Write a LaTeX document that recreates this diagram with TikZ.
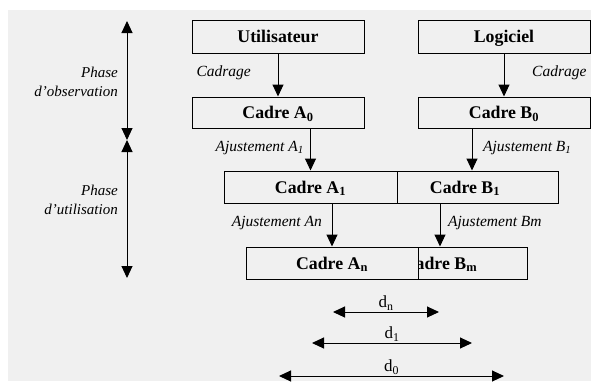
\documentclass[tikz,border=0pt]{standalone}
\usepackage{fontspec}
\setmainfont{Liberation Serif}
\usetikzlibrary{arrows.meta}
\definecolor{bg}{HTML}{F0F0F0}
\begin{document}
\begin{tikzpicture}[x=1pt,y=-1pt,
  box/.style={draw, fill=bg, line width=1pt, minimum height=32pt, inner sep=0pt, text height=12.5pt, text depth=0.5pt, font=\fontsize{17.8}{20}\selectfont\bfseries},
  arr/.style={line width=1pt, -{Triangle[length=12pt,width=11pt]}},
  darr/.style={line width=1pt, {Triangle[length=12pt,width=11pt]}-{Triangle[length=12pt,width=11pt]}},
  lab/.style={font=\fontsize{15.5}{17}\selectfont\itshape, inner sep=0pt},
  phase/.style={font=\fontsize{15}{19}\selectfont\itshape, inner sep=0pt, align=right, anchor=east},
  dlab/.style={font=\fontsize{17}{19}\selectfont, inner sep=1pt, above}]
\useasboundingbox (0,0) rectangle (591,381);
\fill[bg] (8,10) rectangle (591,381);
% boxes
\node[box, minimum width=172pt, minimum height=33pt] (U) at (278,36.5) {Utilisateur};
\node[box, minimum width=172pt, minimum height=33pt] (L) at (504,36.5) {Logiciel};
\node[box, minimum width=172pt, minimum height=31pt] (A0) at (278,112.5) {Cadre A\textsubscript{0}};
\node[box, minimum width=172pt, minimum height=31pt] (B0) at (504,112.5) {Cadre B\textsubscript{0}};
\node[box, minimum width=186pt] (B1) at (465,187) {Cadre B\textsubscript{1}};
\node[box, minimum width=173pt] (A1) at (310.5,187) {Cadre A\textsubscript{1}};
\node[box, minimum width=174pt] (Bm) at (440,263) {Cadre B\textsubscript{m}};
\node[box, minimum width=172pt] (An) at (332,263) {Cadre A\textsubscript{n}};
% arrows between boxes
\coordinate (bx) at (472,0);
\draw[arr] (U) -- (A0);
\draw[arr] (L) -- (B0);
\draw[arr] (A1.north |- A0.south) -- (A1.north);
\draw[arr] (B0.south -| bx) -- (B1.north -| bx);
\draw[arr] (An.north |- A1.south) -- (An.north);
\draw[arr] (Bm.north |- B1.south) -- (Bm.north);
% labels
\node[lab, anchor=east] (c1) at (251,73) {Cadrage};
\node[lab, anchor=west] (c2) at (532,73) {Cadrage};
\node[lab, anchor=east] (ja1) at (304,148) {Ajustement A\textsubscript{1}};
\node[lab, anchor=west] (jb1) at (483,148) {Ajustement B\textsubscript{1}};
\node[lab, anchor=east] (jan) at (322,223) {Ajustement An};
\node[lab, anchor=west] (jbm) at (448,223) {Ajustement Bm};
% phases
\coordinate (p1) at (127,21);
\coordinate (p2) at (127,140);
\coordinate (p3) at (127,278);
\draw[darr] (p1) -- (p2);
\draw[darr] (p2) -- (p3);
\node[phase] (ph1) at (118,81.5) {Phase\\d’observation};
\node[phase] (ph2) at (118,200) {Phase\\d’utilisation};
% distances
\coordinate (dn1) at (333,312); \coordinate (dn2) at (439,312);
\coordinate (d11) at (312,343); \coordinate (d12) at (472,343);
\coordinate (d01) at (279,376); \coordinate (d02) at (504,376);
\draw[darr] (dn1) -- node[dlab] (ldn) {d\textsubscript{n}} (dn2);
\draw[darr] (d11) -- node[dlab] (ld1) {d\textsubscript{1}} (d12);
\draw[darr] (d01) -- node[dlab] (ld0) {d\textsubscript{0}} (d02);
\end{tikzpicture}
\end{document}
